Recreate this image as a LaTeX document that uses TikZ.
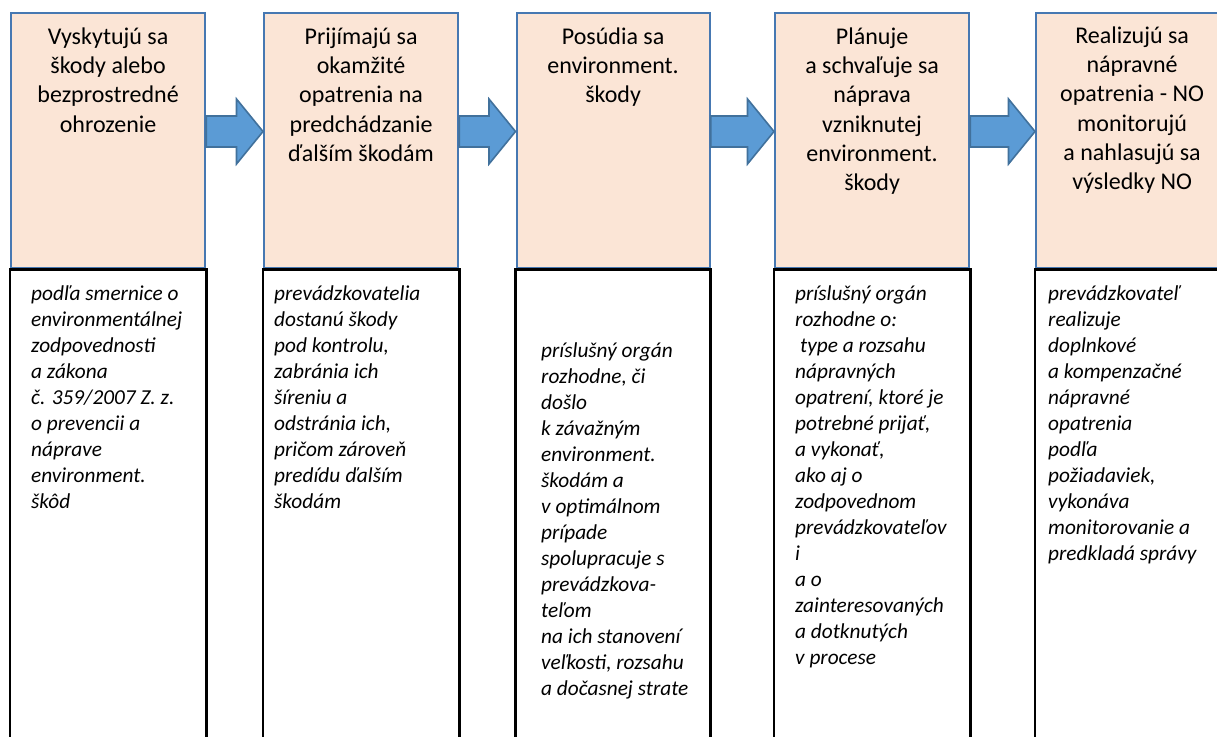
\documentclass[tikz,border=0pt]{standalone}
\usepackage{fontspec}
\setmainfont{Carlito}
\usetikzlibrary{calc}
\definecolor{boxfill}{RGB}{251,229,214}
\definecolor{boxline}{RGB}{70,120,178}
\definecolor{arrfill}{RGB}{91,155,213}
\definecolor{arrline}{RGB}{65,113,156}
\tikzset{
  topbox/.style={draw=boxline, fill=boxfill, line width=2.2pt, anchor=north west, minimum width=194pt, minimum height=255pt, inner sep=0pt},
  headtxt/.style={anchor=north, align=center, inner sep=0pt, font=\fontsize{24}{29.3}\selectfont},
  bodytxt/.style={anchor=north west, align=left, inner sep=0pt, font=\fontsize{21.3}{26}\selectfont\itshape},
  lowbox/.style={draw=black, line width=2.8pt},
  bigarrow/.style={draw=arrline, fill=arrfill, line width=1.6pt, line join=miter}
}
\newcommand{\hr}{\rule{0pt}{24pt}}
\newcommand{\br}{\rule{0pt}{21.3pt}}
\begin{document}
\begin{tikzpicture}[x=1pt,y=-1pt]
\useasboundingbox (0,0) rectangle (1217,736);
\clip (0,0) rectangle (1217,736);
\fill[white] (0,0) rectangle (1217,736);
% top boxes
\node[topbox] (t1) at (10,12) {};
\node[topbox] (t2) at (263,12) {};
\node[topbox, minimum width=193pt] (t3) at (515.5,12) {};
\node[topbox] (t4) at (774,12) {};
\node[topbox] (t5) at (1035,12) {};
% lower boxes
\coordinate (l1a) at (t1.south west); \coordinate (l1b) at ($(t1.south east)+(0,500)$);
\coordinate (l2a) at (t2.south west); \coordinate (l2b) at ($(t2.south east)+(0,500)$);
\coordinate (l3a) at (t3.south west); \coordinate (l3b) at ($(t3.south east)+(0,500)$);
\coordinate (l4a) at (t4.south west); \coordinate (l4b) at ($(t4.south east)+(0,500)$);
\coordinate (l5a) at (t5.south west); \coordinate (l5b) at ($(t5.south east)+(0,500)$);
\foreach \i in {1,...,5}{\draw[lowbox] (l\i a) rectangle (l\i b);}
% arrows
\foreach \a/\b in {t1/t2,t2/t3,t3/t4,t4/t5}{
  \draw[bigarrow] (\a.east |- 0,116) -- ($(\b.west |- 0,116)+(-26.5,0)$)
    -- ($(\b.west |- 0,99)+(-26.5,0)$) -- (\b.west |- 0,131.5)
    -- ($(\b.west |- 0,164)+(-26.5,0)$) -- ($(\b.west |- 0,147)+(-26.5,0)$)
    -- (\a.east |- 0,147) -- cycle;
}
% headings
\node[headtxt] (h1) at ($(t1.north)+(0,8)$) {\hr Vyskytujú sa\\škody alebo\\bezprostredné\\ohrozenie};
\node[headtxt] (h2) at ($(t2.north)+(0,8)$) {\hr Prijímajú sa\\okamžité\\opatrenia na\\predchádzanie\\ďalším škodám};
\node[headtxt] (h3) at ($(t3.north)+(0,8)$) {\hr Posúdia sa\\environment.\\škody};
\node[headtxt] (h4) at ($(t4.north)+(0,8)$) {\hr Plánuje\\a schvaľuje sa\\náprava\\vzniknutej\\environment.\\škody};
\node[headtxt] (h5) at ($(t5.north)+(-1,7)$) {\hr Realizujú sa\\nápravné\\opatrenia - NO\\monitorujú\\a nahlasujú sa\\výsledky NO};
% body texts
\node[bodytxt] (b1) at (31,278.7) {\br podľa smernice o\\environmentálnej\\zodpovednosti\\a zákona\\č. 359/2007 Z. z.\\o prevencii a\\náprave\\environment.\\škôd};
\node[bodytxt] (b2) at (274,278.7) {\br prevádzkovatelia\\dostanú škody\\pod kontrolu,\\zabránia ich\\šíreniu a\\odstránia ich,\\pričom zároveň\\predídu ďalším\\škodám};
\node[bodytxt] (b3) at (541,335.7) {\br príslušný orgán\\rozhodne, či\\došlo\\k závažným\\environment.\\škodám a\\v optimálnom\\prípade\\spolupracuje s\\prevádzkova-\\teľom\\na ich stanovení\\veľkosti, rozsahu\\a dočasnej strate};
\node[bodytxt] (b4) at (795,278.7) {\br príslušný orgán\\rozhodne o:\\\hspace*{5pt}type a rozsahu\\nápravných\\opatrení, ktoré je\\potrebné prijať,\\a vykonať,\\ako aj o\\zodpovednom\\prevádzkovateľov\\i\\a o\\zainteresovaných\\a dotknutých\\v procese};
\node[bodytxt] (b5) at (1048,278.7) {\br prevádzkovateľ\\realizuje\\doplnkové\\a kompenzačné\\nápravné\\opatrenia\\podľa\\požiadaviek,\\vykonáva\\monitorovanie a\\predkladá správy};
\end{tikzpicture}
\end{document}
